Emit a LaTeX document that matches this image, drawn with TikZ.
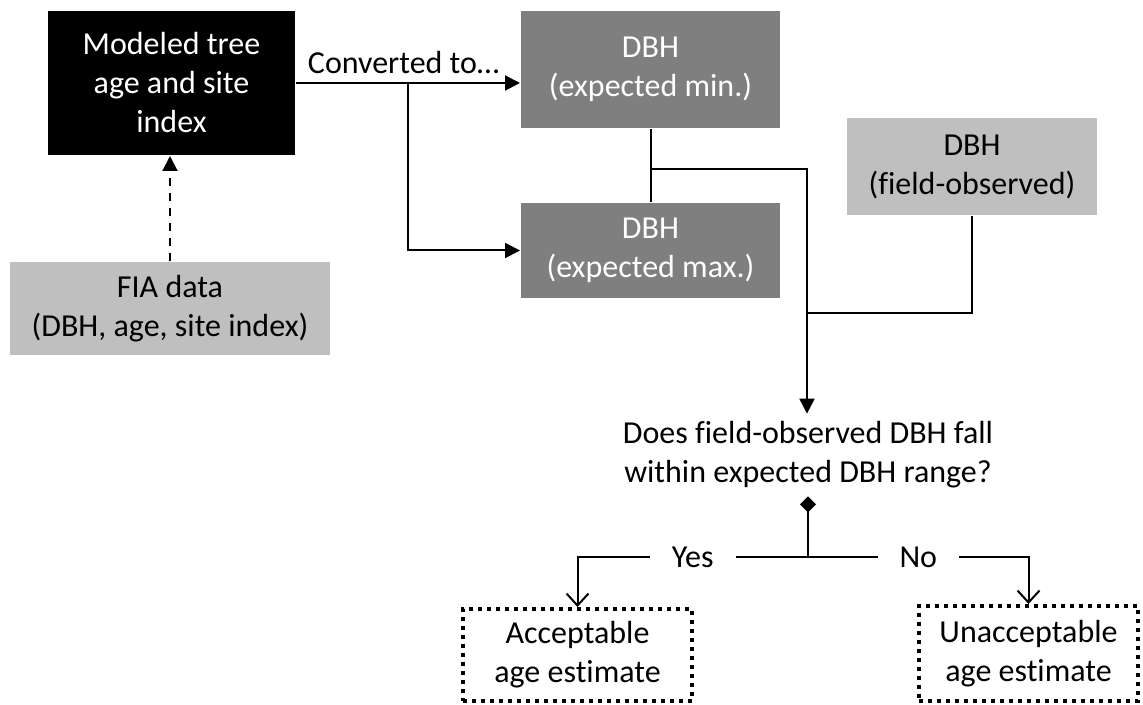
\documentclass[tikz,border=0pt]{standalone}
\usepackage{fontspec}
\setmainfont{Carlito}[Ligatures=NoCommon]
\usetikzlibrary{arrows.meta}
\definecolor{darkfill}{HTML}{7F7F7F}
\definecolor{lightfill}{HTML}{BFBFBF}
\begin{document}
\begin{tikzpicture}[x=0.5pt, y=-0.5pt, line width=1pt,
    font=\fontsize{16}{19.5}\selectfont,
    box/.style={align=center, inner sep=0pt},
    tip/.style={-{Triangle[length=7.5pt,width=7.5pt]}},
    opentip/.style={-{Straight Barb[length=6pt,width=11pt,line width=1pt]}},
    answer/.style={box, draw, line width=2pt, dash pattern=on 2pt off 2.5pt},
    lbl/.style={fill=white, inner xsep=11pt, inner ysep=2pt}]
  \useasboundingbox (0,0) rectangle (1143,705);

  % inputs
  \node[box, fill=black, text=white, minimum width=123.5pt, minimum height=72pt]
    (model) at (171.5,83) {Modeled tree\\ age and site\\ index};
  \node[box, fill=lightfill, minimum width=160pt, minimum height=46.5pt]
    (fia) at (170,308.5) {FIA data\\ (DBH, age, site index)};
  \node[box, fill=darkfill, text=white, minimum width=129.5pt, minimum height=58.5pt]
    (min) at (650.5,69.5) {DBH\\ (expected min.)};
  \node[box, fill=darkfill, text=white, minimum width=129.5pt, minimum height=47.5pt]
    (max) at (650.5,250.5) {DBH\\ (expected max.)};
  \node[box, fill=lightfill, minimum width=125pt, minimum height=48.5pt]
    (field) at (972,166.5) {DBH\\ (field-observed)};

  % test and outcomes
  \node[box, outer ysep=4pt] (test) at (808,455)
    {Does field-observed DBH fall\\ within expected DBH range?};
  \node[answer, minimum width=114.5pt, minimum height=46pt]
    (acc) at (577.5,655) {Acceptable\\ age estimate};
  \node[answer, minimum width=109.5pt, minimum height=47.5pt]
    (unacc) at (1028.5,653.5) {Unacceptable\\ age estimate};

  % connectors
  \draw[dash pattern=on 4pt off 3.5pt, tip] (fia.north) -- (fia.north |- model.south);
  \coordinate (split) at (408,83);
  \draw[tip] (model.east) -- node[above, pos=0.48, yshift=1pt] {Converted to…}
    (model.east -| min.west);
  \draw[tip] (split) |- (max.west);
  \draw (min.south) -- (max.north);
  \coordinate (jmin) at (650.5,169);
  \coordinate (merge) at (807,313);
  \draw (jmin) -| (merge);
  \draw (field.south) |- (merge);
  \draw[tip] (merge) -- (merge |- test.north);
  \coordinate (fork) at (808,557);
  \draw[{Diamond[length=8pt,width=8pt]}-] (test.south) -- (fork);
  \draw[opentip] (fork) -- node[lbl] {Yes} (fork -| acc.north) -- (acc.north);
  \draw[opentip] (fork) -- node[lbl] {No} (fork -| unacc.north) -- (unacc.north);
\end{tikzpicture}
\end{document}
